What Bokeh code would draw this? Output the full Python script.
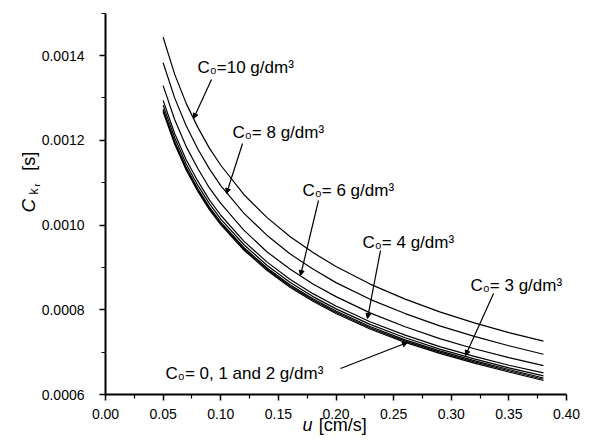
import math
from bokeh.plotting import figure
from bokeh.models import Label, Arrow, NormalHead, FixedTicker, PrintfTickFormatter, LinearAxis
from bokeh.embed import file_html
from bokeh.resources import INLINE

# ---- data ----
u = [0.05, 0.06, 0.07, 0.08, 0.09, 0.10, 0.12, 0.14, 0.16, 0.18, 0.20, 0.23, 0.26, 0.29, 0.32, 0.35, 0.38]
c10 = [0.001443, 0.001356, 0.001287, 0.001231, 0.001182, 0.001141, 0.001072, 0.001018, 0.000973, 0.000935, 0.000902, 0.000860, 0.000825, 0.000795, 0.000769, 0.000746, 0.000726]
c8 = [0.001383, 0.001300, 0.001234, 0.001180, 0.001133, 0.001093, 0.001028, 0.000976, 0.000932, 0.000896, 0.000864, 0.000824, 0.000791, 0.000762, 0.000737, 0.000715, 0.000695]
c6 = [0.001329, 0.001249, 0.001185, 0.001134, 0.001088, 0.001051, 0.000988, 0.000937, 0.000896, 0.000861, 0.000831, 0.000792, 0.000760, 0.000732, 0.000708, 0.000687, 0.000668]
c4 = [0.001294, 0.001216, 0.001154, 0.001104, 0.001060, 0.001023, 0.000962, 0.000913, 0.000872, 0.000838, 0.000809, 0.000771, 0.000740, 0.000713, 0.000690, 0.000669, 0.000651]
c3 = [0.001283, 0.001206, 0.001144, 0.001094, 0.001051, 0.001014, 0.000954, 0.000905, 0.000865, 0.000831, 0.000802, 0.000765, 0.000734, 0.000707, 0.000684, 0.000663, 0.000644]
c2 = [0.001273, 0.001197, 0.001136, 0.001086, 0.001043, 0.001007, 0.000947, 0.000899, 0.000859, 0.000826, 0.000797, 0.000760, 0.000729, 0.000703, 0.000680, 0.000659, 0.000639]
c1 = [0.001270, 0.001194, 0.001133, 0.001083, 0.001040, 0.001004, 0.000944, 0.000896, 0.000856, 0.000823, 0.000794, 0.000757, 0.000726, 0.000700, 0.000677, 0.000656, 0.000636]
c0 = [0.001267, 0.001191, 0.001130, 0.001080, 0.001037, 0.001001, 0.000941, 0.000893, 0.000853, 0.000820, 0.000791, 0.000754, 0.000723, 0.000697, 0.000674, 0.000653, 0.000633]

x_ticks = [0.00, 0.05, 0.10, 0.15, 0.20, 0.25, 0.30, 0.35, 0.40]
x_minor = [0.025, 0.075, 0.125, 0.175, 0.225, 0.275, 0.325, 0.375]
y_ticks = [0.0006, 0.0008, 0.0010, 0.0012, 0.0014]
y_minor = [0.0007, 0.0009, 0.0011, 0.0013, 0.0015]

labels = ["C\u2080=10 g/dm\u00b3", "C\u2080= 8 g/dm\u00b3", "C\u2080= 6 g/dm\u00b3",
          "C\u2080= 4 g/dm\u00b3", "C\u2080= 3 g/dm\u00b3", "C\u2080= 0, 1 and 2 g/dm\u00b3"]

FONT = "Liberation Sans"

# the frame covers the whole canvas; axes are pinned at x=0 and y=0.0006
W, H = 581, 439
X0PX, XSCALE = 105.0, 1152.5        # px of u=0, px per unit
Y0PX, YSCALE = 394.0, 423750.0      # px of C=0.0006, px per unit
x_range = (-X0PX / XSCALE, (W - X0PX) / XSCALE)
y_range = (0.0006 - (H - Y0PX) / YSCALE, 0.0006 + Y0PX / YSCALE)

p = figure(width=W, height=H, x_range=x_range, y_range=y_range,
           output_backend="svg", toolbar_location=None,
           x_axis_location=None, y_axis_location=None,
           min_border_left=0, min_border_right=0, min_border_top=0, min_border_bottom=0)
p.outline_line_color = None
p.grid.visible = False
p.background_fill_color = "white"

xaxis = LinearAxis(fixed_location=0.0006, bounds=(0.0, 0.40),
                   ticker=FixedTicker(ticks=x_ticks, minor_ticks=x_minor),
                   formatter=PrintfTickFormatter(format="%.2f"), major_label_standoff=8)
yaxis = LinearAxis(fixed_location=0.0, bounds=(0.0006, 0.0015),
                   ticker=FixedTicker(ticks=y_ticks, minor_ticks=y_minor),
                   formatter=PrintfTickFormatter(format="%.4f"), major_label_standoff=15)
for ax in (xaxis, yaxis):
    ax.axis_line_width = 2
    ax.axis_line_color = "black"
    ax.major_tick_line_width = 1.5
    ax.minor_tick_line_width = 1.2
    ax.major_tick_in = 0
    ax.major_tick_out = 6
    ax.minor_tick_in = 0
    ax.minor_tick_out = 4
    ax.major_label_text_font = FONT
    ax.major_label_text_font_size = "14px"
    ax.major_label_text_color = "black"
p.add_layout(xaxis, "below")
p.add_layout(yaxis, "left")

for ys in (c10, c8, c6, c4, c3, c2, c1, c0):
    p.line(u, ys, line_color="black", line_width=1.2)

# text annotations (positions in data units)
label_pos = [(0.0798, 0.0013717), (0.1102, 0.0012183), (0.1709, 0.0010814),
             (0.2230, 0.0009587), (0.3167, 0.0008572), (0.0521, 0.0006496)]
for (lx, ly), t in zip(label_pos, labels):
    p.add_layout(Label(x=lx, y=ly, text=t, text_font=FONT, text_font_size="17px",
                       text_color="black", text_baseline="alphabetic", text_align="left"))

arrows = [((0.0920, 0.0013434), (0.0764, 0.0012513)),
          ((0.1189, 0.0011923), (0.1050, 0.0010743)),
          ((0.1848, 0.0010578), (0.1692, 0.0008808)),
          ((0.2386, 0.0009398), (0.2273, 0.0007793)),
          ((0.3367, 0.0008383), (0.3124, 0.0006920)),
          ((0.2039, 0.0006614), (0.2620, 0.0007227))]
for (xs, ys_), (xe, ye) in arrows:
    p.add_layout(Arrow(x_start=xs, y_start=ys_, x_end=xe, y_end=ye, line_width=1.2,
                       line_color="black",
                       end=NormalHead(size=5, fill_color="black", line_color="black")))

# axis titles built from pieces (mixed italic / upright)
p.add_layout(Label(x=0.171, y=0.000527, text="u", text_font=FONT, text_font_size="18px",
                   text_color="black", text_font_style="italic",
                   text_baseline="middle", text_align="left"))
p.add_layout(Label(x=0.1850, y=0.000527, text="[cm/s]", text_font=FONT, text_font_size="18px",
                   text_color="black", text_baseline="middle", text_align="left"))

p.add_layout(Label(x=-0.0668, y=0.0010295, text="C", text_font=FONT, text_font_size="19px",
                   text_color="black", text_font_style="italic",
                   text_baseline="middle", text_align="left", angle=math.pi / 2))
p.add_layout(Label(x=-0.0622, y=0.0010720, text="k", text_font=FONT, text_font_size="12px",
                   text_color="black", text_baseline="middle", text_align="left",
                   angle=math.pi / 2))
p.add_layout(Label(x=-0.0598, y=0.0010910, text="r", text_font=FONT, text_font_size="9px",
                   text_color="black", text_baseline="middle", text_align="left",
                   angle=math.pi / 2))
p.add_layout(Label(x=-0.0668, y=0.0011280, text="[s]", text_font=FONT, text_font_size="18px",
                   text_color="black", text_baseline="middle", text_align="left",
                   angle=math.pi / 2))

open("out.html", "w").write(file_html(p, INLINE))
